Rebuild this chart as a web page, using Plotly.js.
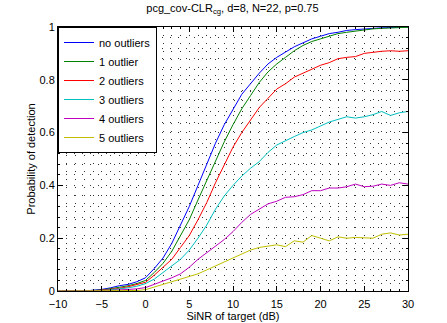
<!DOCTYPE html>
<html>
<head>
<meta charset="utf-8">
<script src="https://cdn.plot.ly/plotly-3.0.1.min.js"></script>
<style>
  body { margin: 0; background: #fff; }
  #graph { width: 447px; height: 323px; }
</style>
</head>
<body>
<div id="graph"></div>
<script>
// SiNR axis, 1 dB steps
var sinr = [-10,-9,-8,-7,-6,-5,-4,-3,-2,-1,0,1,2,3,4,5,6,7,8,9,10,11,12,13,14,15,16,17,18,19,20,21,22,23,24,25,26,27,28,29,30];

var noOutliers = [0,0,0,0,0.003,0.006,0.012,0.02,0.025,0.035,0.05,0.085,0.125,0.18,0.25,0.32,0.40,0.48,0.56,0.63,0.69,0.745,0.785,0.825,0.86,0.885,0.905,0.925,0.94,0.955,0.965,0.975,0.98,0.987,0.99,0.993,0.995,0.997,0.998,0.999,1.0];
var out1 = [0,0,0,0,0.002,0.004,0.008,0.014,0.02,0.028,0.04,0.07,0.105,0.15,0.21,0.27,0.345,0.42,0.495,0.565,0.63,0.69,0.74,0.79,0.83,0.86,0.885,0.91,0.93,0.945,0.955,0.965,0.975,0.98,0.985,0.99,0.993,0.995,0.997,0.998,0.999];
var out2 = [0,0,0,0,0.001,0.003,0.006,0.01,0.016,0.024,0.033,0.06,0.09,0.12,0.165,0.21,0.27,0.335,0.41,0.475,0.545,0.6,0.65,0.695,0.73,0.765,0.785,0.81,0.825,0.84,0.855,0.865,0.88,0.885,0.888,0.9,0.905,0.908,0.91,0.908,0.91];
var out3 = [0,0,0,0,0,0.002,0.004,0.007,0.012,0.018,0.028,0.045,0.07,0.095,0.12,0.155,0.2,0.25,0.31,0.36,0.4,0.435,0.465,0.49,0.525,0.553,0.57,0.585,0.6,0.61,0.625,0.64,0.65,0.66,0.655,0.66,0.668,0.68,0.665,0.675,0.68];
var out4 = [0,0,0,0,0,0,0.002,0.004,0.006,0.008,0.013,0.025,0.035,0.05,0.065,0.09,0.12,0.145,0.17,0.195,0.225,0.26,0.29,0.31,0.33,0.34,0.355,0.357,0.365,0.38,0.38,0.39,0.39,0.395,0.405,0.395,0.397,0.405,0.4,0.41,0.405];
var out5 = [0,0,0,0,0,0,0,0,0,0.002,0.005,0.015,0.025,0.035,0.045,0.055,0.065,0.08,0.095,0.11,0.125,0.14,0.155,0.165,0.17,0.175,0.168,0.19,0.185,0.21,0.2,0.19,0.205,0.2,0.203,0.202,0.2,0.215,0.22,0.212,0.215];

var names = ['no outliers', '1 outlier', '2 outliers', '3 outliers', '4 outliers', '5 outliers'];
var colors = ['#0000ff', '#008000', '#ff0000', '#00bfbf', '#bf00bf', '#bfbf00'];
var series = [noOutliers, out1, out2, out3, out4, out5];

var data = [];
for (var i = 0; i < series.length; i++) {
    data.push({
        x: sinr,
        y: series[i],
        type: 'scatter',
        mode: 'lines',
        name: names[i],
        line: {color: colors[i], width: 1}
    });
}

var fnt = {family: 'Liberation Sans, Arial, sans-serif', size: 11, color: '#000'};
var dots = '1px,7px';
var gcol = '#333';

var layout = {
    width: 447,
    height: 323,
    margin: {l: 58, r: 39, t: 27, b: 32},
    paper_bgcolor: '#fff',
    plot_bgcolor: '#fff',
    font: fnt,
    showlegend: true,
    title: {
        text: 'pcg_cov-CLR<sub>cg</sub>, d=8, N=22, p=0.75',
        font: fnt,
        x: 0.52,
        xanchor: 'center',
        y: 0.975,
        yanchor: 'middle'
    },
    legend: {
        x: 0, y: 1,
        xanchor: 'left', yanchor: 'top',
        bgcolor: '#fff',
        bordercolor: '#000',
        borderwidth: 1,
        font: fnt
    },
    xaxis: {
        range: [-10, 30],
        dtick: 5,
        tick0: -10,
        ticks: 'inside',
        ticklen: 5,
        tickcolor: '#000',
        ticklabelstandoff: 3,
        showline: true,
        linecolor: '#000',
        linewidth: 1,
        mirror: 'ticks',
        zeroline: false,
        showgrid: true,
        gridcolor: gcol,
        griddash: dots,
        gridwidth: 1,
        minor: {dtick: 1, ticks: 'inside', ticklen: 2, tickcolor: '#000', showgrid: true, gridcolor: gcol, griddash: dots, gridwidth: 1},
        title: {text: 'SiNR of target (dB)', font: fnt, standoff: 0}
    },
    yaxis: {
        range: [0, 1],
        dtick: 0.2,
        ticks: 'inside',
        ticklen: 5,
        tickcolor: '#000',
        showline: true,
        linecolor: '#000',
        linewidth: 1,
        mirror: 'ticks',
        zeroline: false,
        showgrid: true,
        gridcolor: gcol,
        griddash: dots,
        gridwidth: 1,
        minor: {dtick: 0.04, ticks: 'inside', ticklen: 2, tickcolor: '#000', showgrid: true, gridcolor: gcol, griddash: dots, gridwidth: 1},
        title: {text: 'Probability of detection', font: fnt, standoff: 1}
    }
};

Plotly.newPlot('graph', data, layout, {displayModeBar: false, staticPlot: true});
</script>
</body>
</html>
